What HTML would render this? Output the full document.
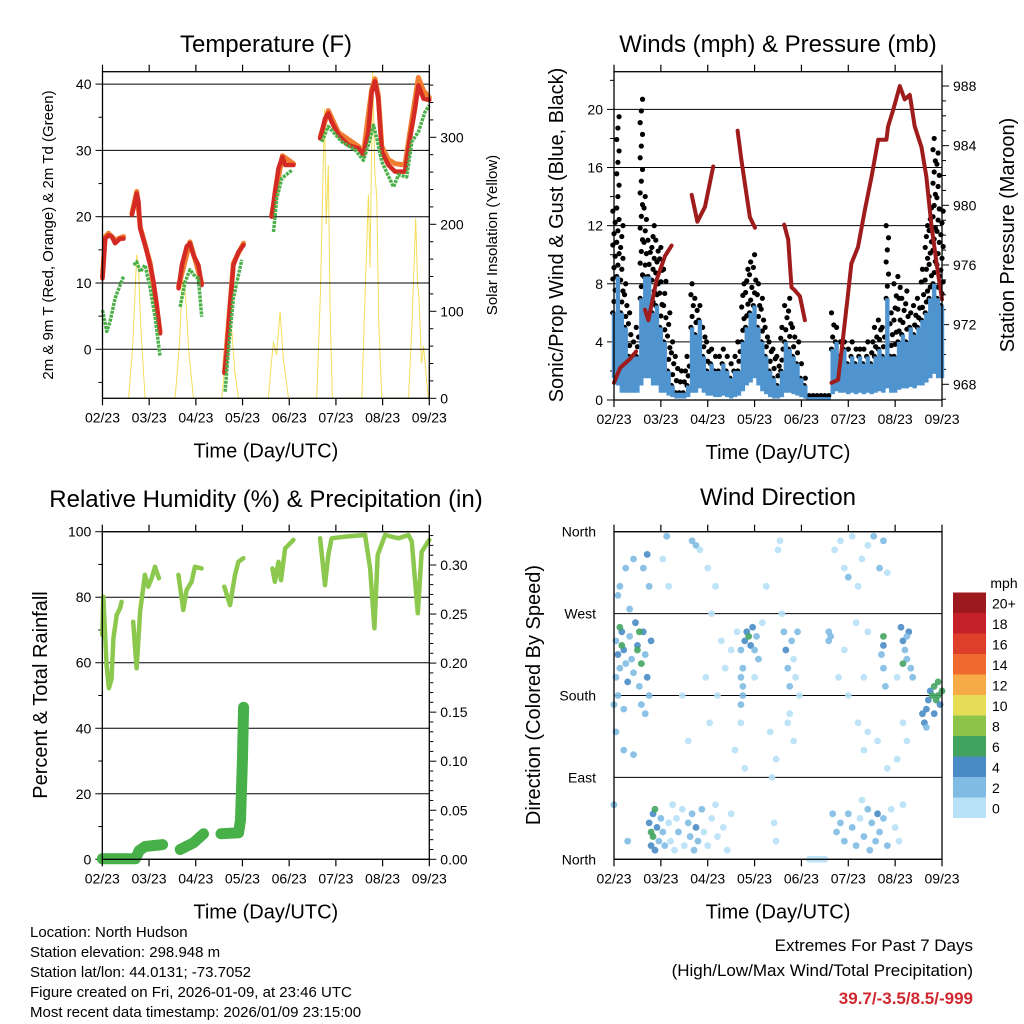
<!DOCTYPE html>
<html><head><meta charset="utf-8"><style>
html,body{margin:0;padding:0;background:#fff;}
svg{display:block;font-family:"Liberation Sans",sans-serif;}
</style></head><body>
<svg id="chart" width="1024" height="1024" viewBox="0 0 1024 1024" xmlns="http://www.w3.org/2000/svg">
<rect width="1024" height="1024" fill="#fff"/>
<g id="layer"></g>
<g font-size="15" fill="#000">
<text x="30" y="937">Location: North Hudson</text>
<text x="30" y="957">Station elevation: 298.948 m</text>
<text x="30" y="977">Station lat/lon: 44.0131; -73.7052</text>
<text x="30" y="997">Figure created on Fri, 2026-01-09, at 23:46 UTC</text>
<text x="30" y="1017">Most recent data timestamp: 2026/01/09 23:15:00</text>
</g>
<g font-size="17" text-anchor="end">
<text x="973" y="951">Extremes For Past 7 Days</text>
<text x="973" y="976">(High/Low/Max Wind/Total Precipitation)</text>
<text x="973" y="1004" fill="#d0282e" font-weight="bold">39.7/-3.5/8.5/-999</text>
</g>
</svg>
<script>
// ---------- data ----------
const dayLabels = ["02/23","03/23","04/23","05/23","06/23","07/23","08/23","09/23"];
const tempRed = [[0,10.7],[1.4,16.7],[3.1,17.2],[4.8,17],[6.5,16],[9.1,16.7],[10.8,16.7],null,
 [15.1,20.3],[16.4,21.8],[17.6,23.5],[18.5,22.3],[19.4,18.2],[21.9,15.7],[24.5,12.7],[26.2,10.2],[27.9,6.7],[29.6,2.4],null,
 [39.1,9.2],[40.8,12.7],[43.3,15.5],[45,16],[46.8,14.2],[49.3,12.7],[51,9.7],null,
 [62.7,-3.6],[63.9,-0.4],[65.6,6.7],[67.3,12.7],[69.9,14.7],[72.5,15.7],null,
 [87,20],[88.7,23.8],[90.5,27.3],[92.5,29],[93.9,27.8],[98.2,27.8],null,
 [111.9,31.8],[114.4,34.8],[116.1,35.6],[117.8,34.3],[121.3,32.3],[126.4,30.8],[131.6,30.3],[134.1,29.3],[136.7,32.8],[138.4,38.8],[140.1,40.4],[141.8,37.8],[143.6,29.8],[147,27.8],[150.4,26.8],[155.5,26.8],[158.1,31.8],[160.7,36.3],[162.4,39.8],[165,37.8],[168,37.6]];
const tempOrange = [[0,11],[1.4,17],[3.1,17.5],[6.5,16.5],[10.8,17],null,
 [15.1,20.5],[17.6,23.8],[19.4,18.5],[24.5,13],[29.6,2.7],null,
 [39.1,9.5],[45,16.2],[51,10],null,[62.7,-3.4],[67.3,13],[72.5,16],null,
 [87,20.2],[92.5,29.2],[98.2,28],null,
 [111.9,32],[116.1,36],[121.3,32.7],[131.6,30.6],[134.1,29.6],[138.4,39.2],[140.1,40.8],[141.8,38.3],[143.6,30.6],[147,28.6],[150.4,28],[155.5,27.8],[158.1,32.8],[160.7,37.8],[162.4,41],[165,39],[168,38]];
const dewGreen = [[0,5.9],[2.2,2.7],[3.9,4.2],[6.5,7.7],[10.8,11],null,
 [16,12.7],[17.6,13.2],[19.4,11.7],[21.9,12.7],[24.5,9.2],[27.1,4.7],[29.6,-1.1],null,
 [39.9,6.4],[42.5,10.2],[45,12],[47.6,11],[49.3,10.7],[51,4.9],null,
 [63,-6.4],[64.8,0.2],[67.3,7.7],[71.6,13.5],null,
 [87.9,17.7],[89.6,22.8],[92.2,25.8],[97.3,27],null,
 [112.7,31.3],[116.1,33.6],[123,31.3],[129.8,30.1],[134.1,28.5],[136.7,30.8],[139.3,33.8],[141,31.8],[143.6,28.3],[149.6,24.5],[152.1,26.3],[156.4,26],[159,31.3],[162.4,32.8],[165.8,35.8],[168,36.8]];
const solar = [[13.4,0],[15.5,60],[17.6,165],[18.5,153],[19.5,90],[21.9,0],
 [37.3,0],[39.5,60],[41.1,138],[42.5,123],[44.5,50],[46.8,0],
 [61.3,0],[63,40],[64.4,88],[66.5,77],[68,30],[69.9,0],
 [85.3,0],[86.8,40],[87.9,65],[89.5,50],[91.3,100],[93,45],[95.6,0],
 [110.1,0],[112,120],[114.1,333],[115,200],[116.1,268],[117,100],[118.2,0],
 [133.3,0],[135,120],[136.7,234],[137.5,150],[138.9,375],[140,260],[141,230],[142,90],[143.6,0],
 [157.3,0],[159,80],[161,207],[162,130],[162.7,115],[164,40],[165,60],[167.5,0]];
const windLo = [1.5,1,0.5,0.5,0.5,0.5,0.5,1,1.5,1.5,1,1,0.5,0.5,0.3,0.2,0.1,0.1,0.1,0.2,0.5,0.5,0.8,0.5,0.3,0.3,0.2,0.2,0.3,0.2,0.1,0.2,0.3,0.6,1,1.2,1.5,1,0.6,0.4,0.2,0.1,0.1,0.2,0.5,0.5,0.4,0.3,0.2,0.1,0,0,0,0,0,0,0.4,0.6,0.5,0.5,0.4,0.5,0.4,0.5,0.4,0.5,0.4,0.5,0.6,0.5,0.8,0.5,0.5,0.7,0.8,0.8,0.9,0.8,1,1,1.2,1.5,1.8,1.5,1.5];
const windHi = [6,8.5,6,5,3,3,3,7,8.5,8.5,6,6.5,5,4,2,1,0.5,0.5,0.5,1,5,4.5,5.5,3,2,2.5,2,2,2.5,2,1.5,2,2,4,5,6,6.5,5,4,3,2,1.5,1,2,4,3.5,3,2.5,1.5,1,0.2,0.2,0.2,0.2,0.2,0.2,3.5,4,3,3.5,2.5,3,2.5,3,2.5,3,2.5,3,3.5,3,7,3,3,4,4.5,4,5,4.5,5,5.5,6,7,8,7,6.5];
const windGust = [13,19.5,12,8,6,4,5,20.7,14,11,12,11,10.5,9,6,4,3,2,2,3,8,7,6.5,5,4,3.5,3,3,3.5,3,2.5,3,4,8,9,9.5,10,8,7,5,4,3.5,3,5,6.5,7,5,4,2.5,1.5,0.3,0.3,0.3,0.3,0.3,0.3,6,5,4,4,3.5,4,3.5,3.5,3.5,4,4,5,5.5,5,12,6,8,8.5,7,7.5,6,6.5,7,9,12,14,18,17,13];
const pressure = [[0,968.1],[3.1,969.1],[8.2,969.7],[11.3,970.2],null,
 [15.9,973],[17.6,972.3],[21.8,975],[26.1,976.6],[29.5,977.3],null,
 [39.8,980.7],[42.7,978.9],[46.6,979.9],[50.8,982.6],null,
 [63.3,985],[65.3,983],[67,981.5],[69.6,979.2],[72.2,978.5],null,
 [87.2,978.7],[89.2,977.7],[90.9,974.5],[92.6,974.3],[95.2,973.9],[97.8,972.3],null,
 [111.4,968.1],[114.8,968.3],[117.4,971.2],[119.9,974.1],[121.6,976.1],[125,977.2],[128.5,979.7],[131.9,981.9],[135.3,984.4],[139.5,984.4],[140.4,985.3],[143,986.4],[146.4,988],[148.9,987.1],[151.5,987.4],[154,985.3],[157.5,983.9],[160,981.9],[162.6,978.6],[166,975.4],[168,973.7]];
const rhValues = [[0,68.5],[0.5,80.2],[2.2,59.3],[3.4,52.2],[4.8,55.2],[5.7,67.4],[7.4,74.6],[9.1,76.6],[9.9,78.6],null,
 [15.9,72.5],[17.6,58.3],[19.4,75.6],[21.9,86.8],[23.6,83.2],[25.4,85.8],[27.1,89.3],[29.1,85.8],null,
 [39.1,86.8],[41.6,76.1],[43.3,82.2],[45.9,84.7],[47.6,89.3],[51,88.8],null,
 [62.7,83.2],[65.6,77.6],[68.2,86.8],[69.9,90.8],[72.5,91.9],null,
 [87.4,88.8],[88.7,84.7],[90.5,90.8],[91.8,85.2],[93.9,94.9],[98.2,97.5],null,
 [111.9,98],[114.4,83.7],[116.1,92.9],[117.8,98],[124.8,98.5],[135,99],[137.6,88.8],[139.8,70.5],[141.5,92.9],[145.3,99],[152.1,98],[157.3,99],[159,97],[162.1,75.1],[164.1,93.9],[168,97.5]];
const precipValues = [[0,0.0005],[17,0.0005],[19,0.009],[22,0.013],[31,0.015],null,
 [40,0.01],[47,0.017],[52,0.026],null,
 [61,0.026],[70,0.027],[71,0.04],[72,0.1],[72.6,0.155]];
const dirHours = [1,2,3,1,2,4,5,6,7,8,9,10,11,12,13,14,15,16,17,18,3,4,12,13,14,0,5,16,19,2,3,6,10,15,17,8,18,1,5,0,10,7,
 18,19,19,20,20,21,22,23,24,25,26,21,
 28,29,30,31,32,33,35,36,38,39,40,41,42,43,45,46,48,50,52,53,56,58,60,
 25,27,28,35,38,40,42,44,48,50,52,47,49,53,55,57,60,63,62,65,65,67,
 65,66,66,67,68,69,70,71,72,73,74,66,65,72,
 76,78,80,81,82,83,84,85,83,86,
 87,88,89,90,91,92,93,94,95,89,92,90,
 100,102,104,106,108,110,110,111,
 113,116,118,120,122,125,127,130,133,136,138,140,115,120,125,128,130,135,140,145,148,150,145,118,124,130,128,
 112,114,116,118,120,122,124,126,128,130,132,134,135,136,138,140,142,144,146,148,131,127,
 138,138,138,139,137,
 147,148,149,150,151,152,153,148,150,
 158,159,160,161,162,163,164,165,166,167,168,164,166,160];
const dirDegrees = [240,225,210,200,180,250,230,215,195,245,220,205,260,235,190,170,250,225,200,180,255,235,230,250,215,170,165,160,240,290,300,320,330,320,335,275,300,140,120,60,115,20,
 40,30,15,50,25,10,35,20,45,30,15,55,
 40,20,60,10,45,30,55,15,40,25,50,10,35,20,55,30,15,45,60,25,35,10,50,
 330,355,300,180,130,350,345,340,320,270,300,200,150,180,240,210,230,250,120,200,150,100,
 230,210,190,240,250,245,235,255,230,245,220,180,170,200,
 260,300,140,90,40,20,340,350,110,270,
 250,230,210,190,240,220,200,250,180,150,130,160,
 0,0,0,0,0,250,240,245,
 340,350,320,310,355,300,330,345,355,320,350,315,200,180,150,120,140,130,100,110,150,130,200,230,260,250,200,
 50,30,40,20,50,35,15,45,25,55,40,20,50,30,45,15,55,35,20,60,10,65,
 245,235,210,190,225,
 255,240,230,220,250,210,200,215,245,
 160,150,165,175,185,180,190,175,180,170,185,160,195,145];
const dirSpeeds = [3,4,3,2,3,4,5,3,4,3,2,3,4,5,3,2,4,3,4,3,6,6,6,7,6,2,3,3,4,3,2,2,3,2,4,2,2,2,2,2,3,2,
 4,6,5,4,6,4,5,3,3,2,2,6,
 1,1,1,1,1,2,1,1,2,3,3,3,4,3,2,1,1,1,1,1,1,1,1,
 1,2,1,1,1,3,2,1,1,1,1,1,1,1,1,1,1,1,1,2,1,1,
 2,3,2,4,5,6,4,4,3,2,2,2,2,1,
 1,1,1,1,1,1,1,1,1,1,
 3,4,2,2,3,1,1,2,1,1,1,1,
 0,0,0,0,0,2,2,2,
 1,1,1,2,1,1,1,1,3,3,3,1,1,1,1,1,1,1,1,1,1,1,1,1,1,1,1,
 2,3,2,2,2,3,2,1,2,2,3,3,4,3,2,2,1,1,1,1,2,1,
 6,5,3,3,3,
 4,4,3,3,4,2,2,6,3,
 4,4,4,4,5,6,6,7,6,5,6,5,6,3];
const speedColors = ["#b8e1f7","#80bbe3","#4a8cc6","#43a460","#8cc54a","#e6dc55","#f7ab46","#f06a30","#de3f2a","#c4202a","#9c191d"];
const speedLabels = ["0","2","4","6","8","10","12","14","16","18","20+"];

// ---------- helpers ----------
const NS = "http://www.w3.org/2000/svg";
const layer = document.getElementById("layer");
function mk(tag, attrs, parent) {
  const el = document.createElementNS(NS, tag);
  for (const k in attrs) el.setAttribute(k, attrs[k]);
  (parent || layer).appendChild(el);
  return el;
}
function txt(x, y, s, size, anchor, parent, rot) {
  const t = mk("text", {x: x, y: y, "font-size": size, "text-anchor": anchor || "middle"}, parent);
  if (rot) t.setAttribute("transform", "rotate(" + rot + " " + x + " " + y + ")");
  t.textContent = s;
  return t;
}
function panel(x0, x1, y0, y1) {
  return {x0, x1, y0, y1, xs: h => x0 + (h / 168) * (x1 - x0)};
}
function pathFrom(series, xs, ys) {
  let d = "", pen = false;
  for (const p of series) {
    if (!p) { pen = false; continue; }
    d += (pen ? "L" : "M") + xs(p[0]).toFixed(1) + " " + ys(p[1]).toFixed(1);
    pen = true;
  }
  return d;
}
function frame(P, name) {
  const g = mk("g", {});
  
  
  mk("rect", {x: P.x0, y: P.y0, width: P.x1 - P.x0, height: P.y1 - P.y0, fill: "none", stroke: "#000", "stroke-width": 1.3}, g);
  for (let i = 0; i < dayLabels.length; i++) {
    const x = P.xs(i * 24);
    mk("line", {x1: x, x2: x, y1: P.y1, y2: P.y1 + 7, stroke: "#000", "stroke-width": 1.2}, g);
    mk("line", {x1: x, x2: x, y1: P.y0, y2: P.y0 - 7, stroke: "#000", "stroke-width": 1.2}, g);
    const t = txt(x, P.y1 + 24, dayLabels[i], 14, "middle", g);
    
    
  }
  const xt = txt((P.x0 + P.x1) / 2, P.y1 + 59, "Time (Day/UTC)", 20, "middle", g);
  
  
  return g;
}
function yAxis(P, ys, min, max, minorStep, majorStep, fmt, side, grid, name) {
  const g = mk("g", {});
  
  
  const n = Math.round((max - min) / minorStep);
  for (let i = 0; i <= n; i++) {
    const v = min + i * minorStep;
    const y = ys(v);
    if (y < P.y0 - 0.5 || y > P.y1 + 0.5) continue;
    const r = v / majorStep;
    const isMajor = Math.abs(r - Math.round(r)) < 1e-6;
    const len = isMajor ? 7 : 4;
    if (side === "left") mk("line", {x1: P.x0 - len, x2: P.x0, y1: y, y2: y, stroke: "#000", "stroke-width": 1}, g);
    else mk("line", {x1: P.x1, x2: P.x1 + len, y1: y, y2: y, stroke: "#000", "stroke-width": 1}, g);
    if (isMajor) {
      if (grid) mk("line", {x1: P.x0, x2: P.x1, y1: y, y2: y, stroke: "#000", "stroke-width": 1}, g);
      const t = side === "left" ? txt(P.x0 - 11, y + 5, fmt(v), 14, "end", g) : txt(P.x1 + 11, y + 5, fmt(v), 14, "start", g);
      
      
    }
  }
  return g;
}

// ---------- Panel 1: temperature ----------
const P1 = panel(102.5, 429.3, 71.7, 398.3);
const t1y = v => 349.3 - v * 6.63;
const s1y = v => 398.3 - v * 0.87;
let el;
el = mk("path", {d: pathFrom(solar, P1.xs, s1y), fill: "none", stroke: "#f5dd5a", "stroke-width": 1});


yAxis(P1, t1y, -5, 40, 5, 10, v => String(v), "left", true, "temperature-y-axis");
yAxis(P1, s1y, 0, 380, 20, 100, v => String(v), "right", false, "solar-y-axis");
el = mk("path", {d: pathFrom(tempOrange, P1.xs, t1y), fill: "none", stroke: "#f07d30", "stroke-width": 5, "stroke-linejoin": "round", "stroke-linecap": "round"});


el = mk("path", {d: pathFrom(tempRed, P1.xs, t1y), fill: "none", stroke: "#d42a24", "stroke-width": 4.5, "stroke-linejoin": "round", "stroke-linecap": "round"});


el = mk("path", {d: pathFrom(dewGreen, P1.xs, t1y), fill: "none", stroke: "#4cb04a", "stroke-width": 3.5, "stroke-dasharray": "3 1", "stroke-linejoin": "round"});


frame(P1, "temperature");
el = txt(266, 52, "Temperature (F)", 24, "middle");


el = txt(53, 235, "2m & 9m T (Red, Orange) & 2m Td (Green)", 15, "middle", null, -90);


el = txt(497, 235, "Solar Insolation (Yellow)", 15, "middle", null, -90);



// ---------- Panel 2: winds ----------
const P2 = panel(614, 942, 71.7, 400);
const w2y = v => 400 - v * 14.53;
const p2y = v => 384.3 - (v - 968) * 14.915;
yAxis(P2, w2y, 0, 22, 2, 4, v => String(v), "left", true, "wind-y-axis");
yAxis(P2, p2y, 967, 989, 1, 4, v => String(v), "right", false, "pressure-y-axis");
const gustG = mk("g", {fill: "#000"});


for (let i = 0; i < windGust.length; i++) {
  const h = i * 2;
  const steps = Math.max(1, Math.round((windGust[i] - windHi[i]) / 0.8));
  for (let k = 0; k <= steps; k++) {
    const v = windHi[i] + (windGust[i] - windHi[i]) * k / steps;
    el = mk("circle", {cx: P2.xs(h + (k % 3 - 1) * 0.6), cy: w2y(v), r: 2.6}, gustG);
    
    
  }
}
const windG = mk("g", {fill: "#4f94cf"});


for (let i = 0; i < windHi.length; i++) {
  const h = i * 2;
  const x = P2.xs(h) - 2.2;
  el = mk("rect", {x: x, y: w2y(windHi[i]), width: 4.4, height: Math.max(2.5, w2y(windLo[i]) - w2y(windHi[i]))}, windG);
  
  
}
el = mk("path", {d: pathFrom(pressure, P2.xs, p2y), fill: "none", stroke: "#9e1c1c", "stroke-width": 4, "stroke-linejoin": "round", "stroke-linecap": "round"});


frame(P2, "winds");
el = txt(778, 52, "Winds (mph) & Pressure (mb)", 24, "middle");


el = txt(563, 235, "Sonic/Prop Wind & Gust (Blue, Black)", 20, "middle", null, -90);


el = txt(1014, 235, "Station Pressure (Maroon)", 20, "middle", null, -90);



// ---------- Panel 3: RH & precip ----------
const P3 = panel(102.3, 429.3, 531.7, 859.3);
const r3y = v => 859.3 - v * 3.276;
const q3y = v => 859.3 - v * 981;
yAxis(P3, r3y, 0, 100, 10, 20, v => String(v), "left", true, "rh-y-axis");
yAxis(P3, q3y, 0, 0.33, 0.01, 0.05, v => v.toFixed(2), "right", false, "precip-y-axis");
el = mk("path", {d: pathFrom(rhValues, P3.xs, r3y), fill: "none", stroke: "#8dc84e", "stroke-width": 4.5, "stroke-linejoin": "round", "stroke-linecap": "round"});


el = mk("path", {d: pathFrom(precipValues, P3.xs, q3y), fill: "none", stroke: "#47b048", "stroke-width": 11, "stroke-linejoin": "round", "stroke-linecap": "round"});


frame(P3, "rh");
el = txt(266, 507, "Relative Humidity (%) & Precipitation (in)", 24, "middle");


el = txt(47, 695, "Percent & Total Rainfall", 20, "middle", null, -90);



// ---------- Panel 4: wind direction ----------
const P4 = panel(614, 942, 531.7, 859.3);
const d4y = v => 859.3 - v * 0.91;
const dirNames = ["North","East","South","West","North"];
const dg = mk("g", {});


for (let i = 0; i < dirNames.length; i++) {
  const y = d4y(i * 90);
  mk("line", {x1: P4.x0, x2: P4.x1, y1: y, y2: y, stroke: "#000", "stroke-width": 1}, dg);
  el = txt(P4.x0 - 18, y + 5, dirNames[i], 14, "end", dg);
  
  
}
const scG = mk("g", {"fill-opacity": 0.9});


for (let i = 0; i < dirHours.length; i++) {
  const bin = Math.min(10, Math.floor(dirSpeeds[i] / 2));
  el = mk("circle", {cx: P4.xs(dirHours[i]), cy: d4y(dirDegrees[i]), r: 3.4, fill: speedColors[bin]}, scG);
  
  
}
frame(P4, "direction");
el = txt(778, 505, "Wind Direction", 24, "middle");


el = txt(540, 695, "Direction (Colored By Speed)", 20, "middle", null, -90);



// colorbar
const cb = mk("g", {});


el = txt(1004, 588, "mph", 14, "middle", cb);


for (let i = 0; i < speedColors.length; i++) {
  const y = 818 - (i + 1) * 20.5;
  el = mk("rect", {x: 953, y: y, width: 33, height: 20.5, fill: speedColors[i]}, cb);
  
  
  el = txt(992, y + 16, speedLabels[i], 14, "start", cb);
  
  
}
</script>
</body></html>
